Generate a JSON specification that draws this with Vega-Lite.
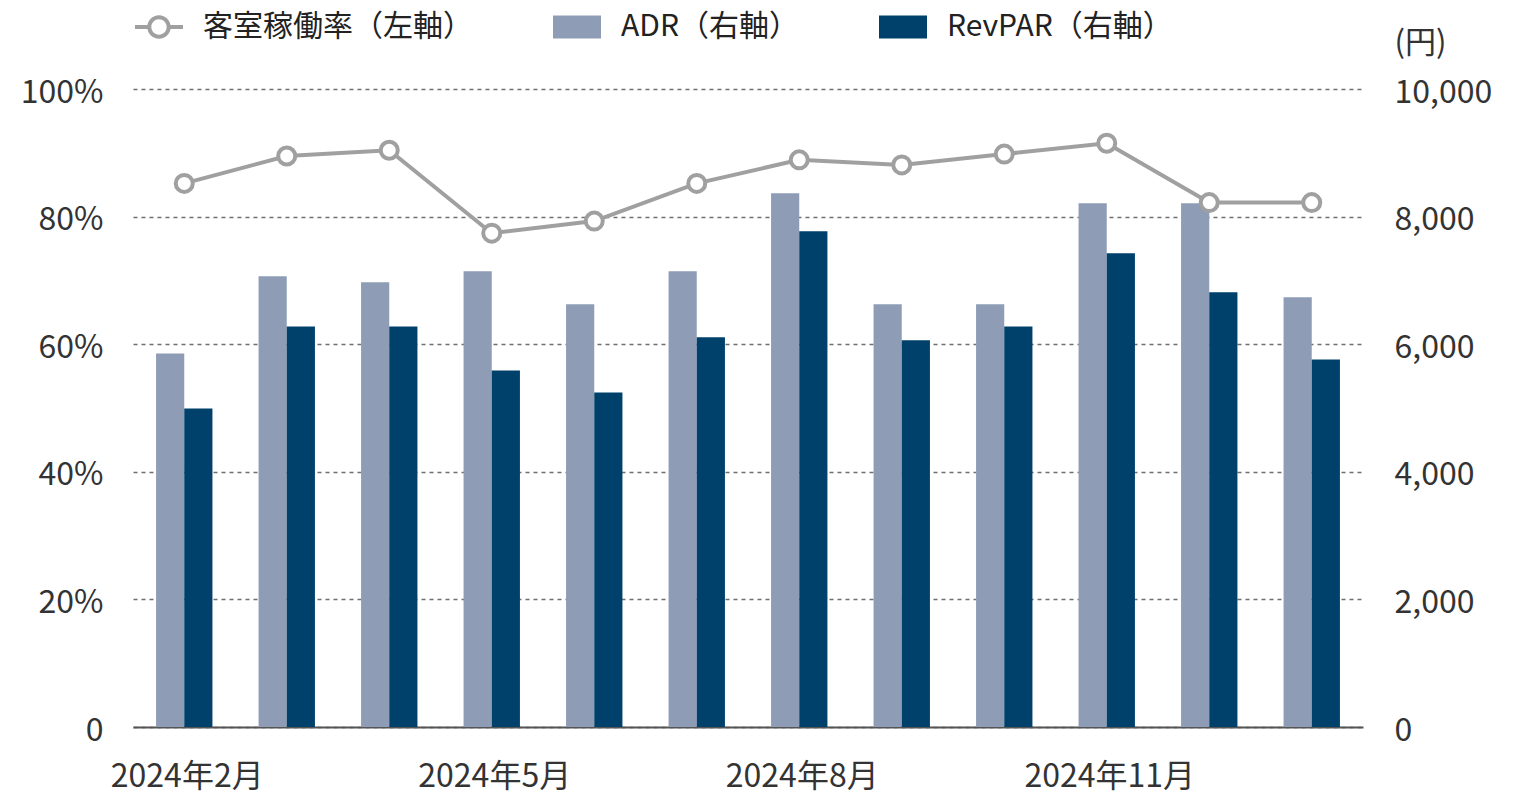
{
  "$schema": "https://vega.github.io/schema/vega-lite/v6.json",
  "width": 1230,
  "height": 638,
  "autosize": {"type": "none"},
  "padding": {"left": 133, "top": 89, "right": 157, "bottom": 81},
  "background": "white",
  "config": {
    "font": "Noto Sans CJK JP",
    "view": {"stroke": null},
    "axis": {"labelColor": "#333333", "labelFontSize": 32, "titleColor": "#333333", "titleFontWeight": "normal"},
    "legend": {"labelColor": "#222222", "labelFontSize": 30}
  },
  "data": {
    "values": [
      {"month": "2024年2月", "occ": 85.2, "ADR（右軸）": 5856, "RevPAR（右軸）": 4992},
      {"month": "2024年3月", "occ": 89.5, "ADR（右軸）": 7064, "RevPAR（右軸）": 6279},
      {"month": "2024年4月", "occ": 90.4, "ADR（右軸）": 6970, "RevPAR（右軸）": 6279},
      {"month": "2024年5月", "occ": 77.4, "ADR（右軸）": 7143, "RevPAR（右軸）": 5589},
      {"month": "2024年6月", "occ": 79.3, "ADR（右軸）": 6625, "RevPAR（右軸）": 5243},
      {"month": "2024年7月", "occ": 85.2, "ADR（右軸）": 7143, "RevPAR（右軸）": 6107},
      {"month": "2024年8月", "occ": 88.9, "ADR（右軸）": 8367, "RevPAR（右軸）": 7771},
      {"month": "2024年9月", "occ": 88.1, "ADR（右軸）": 6625, "RevPAR（右軸）": 6060},
      {"month": "2024年10月", "occ": 89.8, "ADR（右軸）": 6625, "RevPAR（右軸）": 6279},
      {"month": "2024年11月", "occ": 91.5, "ADR（右軸）": 8210, "RevPAR（右軸）": 7425},
      {"month": "2024年12月", "occ": 82.2, "ADR（右軸）": 8210, "RevPAR（右軸）": 6813},
      {"month": "2025年1月", "occ": 82.2, "ADR（右軸）": 6735, "RevPAR（右軸）": 5761}
    ]
  },
  "encoding": {
    "x": {
      "field": "month",
      "type": "nominal",
      "sort": null,
      "scale": {"paddingInner": 0.45, "paddingOuter": 0.225},
      "axis": {
        "title": null,
        "labelAngle": 0,
        "values": ["2024年2月", "2024年5月", "2024年8月", "2024年11月"],
        "ticks": false,
        "domainColor": "#555555",
        "domainWidth": 2,
        "labelPadding": 34,
        "labelOffset": 3,
        "labelFontSize": 32,
        "grid": false
      }
    }
  },
  "layer": [
    {
      "transform": [{"fold": ["ADR（右軸）", "RevPAR（右軸）"], "as": ["series", "val"]}],
      "mark": {"type": "bar"},
      "encoding": {
        "xOffset": {"field": "series", "type": "nominal", "scale": {"domain": ["ADR（右軸）", "RevPAR（右軸）"], "paddingInner": 0, "paddingOuter": 0}},
        "y": {
          "field": "val",
          "type": "quantitative",
          "scale": {"domain": [0, 10000], "nice": false},
          "axis": {
            "orient": "right",
            "values": [0, 2000, 4000, 6000, 8000, 10000],
            "labelExpr": "format(datum.value, ',')",
            "grid": false,
            "domain": false,
            "ticks": false,
            "labelPadding": 31,
            "labelFontSize": 32,
            "labelOffset": 3,
            "title": "(円)",
            "titleAngle": 0,
            "titleAlign": "left",
            "titleBaseline": "middle",
            "titleX": 31,
            "titleY": -46,
            "titleFontSize": 31
          }
        },
        "color": {
          "field": "series",
          "type": "nominal",
          "scale": {
            "domain": ["客室稼働率（左軸）", "ADR（右軸）", "RevPAR（右軸）"],
            "range": ["#a0a0a0", "#8f9cb6", "#00416b"]
          },
          "legend": {
            "title": null,
            "orient": "none",
            "direction": "horizontal",
            "legendX": 2,
            "legendY": -86,
            "symbolSize": 2304,
            "labelOffset": 20,
            "columnPadding": 80,
            "labelLimit": 500,
            "labelFontSize": 30,
            "labelColor": "#222222",
            "encode": {
              "symbols": {
                "update": {
                  "shape": {"signal": "datum.value === '客室稼働率（左軸）' ? 'M-1,-0.083H-0.42V0.083H-1Z M0.42,-0.083H1V0.083H0.42Z M0,-0.49A0.49,0.49 0 1,1 0,0.49A0.49,0.49 0 1,1 0,-0.49Z M0,-0.32A0.32,0.32 0 1,0 0,0.32A0.32,0.32 0 1,0 0,-0.32Z' : 'M-1,-0.48H1V0.48H-1Z'"},
                  "strokeWidth": {"value": 0},
                  "opacity": {"value": 1}
                }
              }
            }
          }
        }
      }
    },
    {
      "layer": [
        {
          "mark": {"type": "line", "strokeWidth": 4},
          "encoding": {
            "y": {
              "field": "occ",
              "type": "quantitative",
              "scale": {"domain": [0, 100], "nice": false},
              "axis": {
                "orient": "left",
                "values": [0, 20, 40, 60, 80, 100],
                "labelExpr": "datum.value === 0 ? '0' : datum.value + '%'",
                "grid": true,
                "gridDash": [4, 4],
                "gridColor": "#707070",
                "gridWidth": 1.5,
                "domain": false,
                "ticks": false,
                "labelPadding": 30,
                "labelFontSize": 32,
                "labelOffset": 3,
                "title": null
              }
            },
            "color": {"datum": "客室稼働率（左軸）", "type": "nominal"}
          }
        },
        {
          "mark": {"type": "point", "filled": true, "fill": "#ffffff", "stroke": "#a0a0a0", "strokeWidth": 4, "size": 290, "opacity": 1},
          "encoding": {
            "y": {"field": "occ", "type": "quantitative"}
          }
        }
      ]
    }
  ],
  "resolve": {"scale": {"y": "independent"}}
}
